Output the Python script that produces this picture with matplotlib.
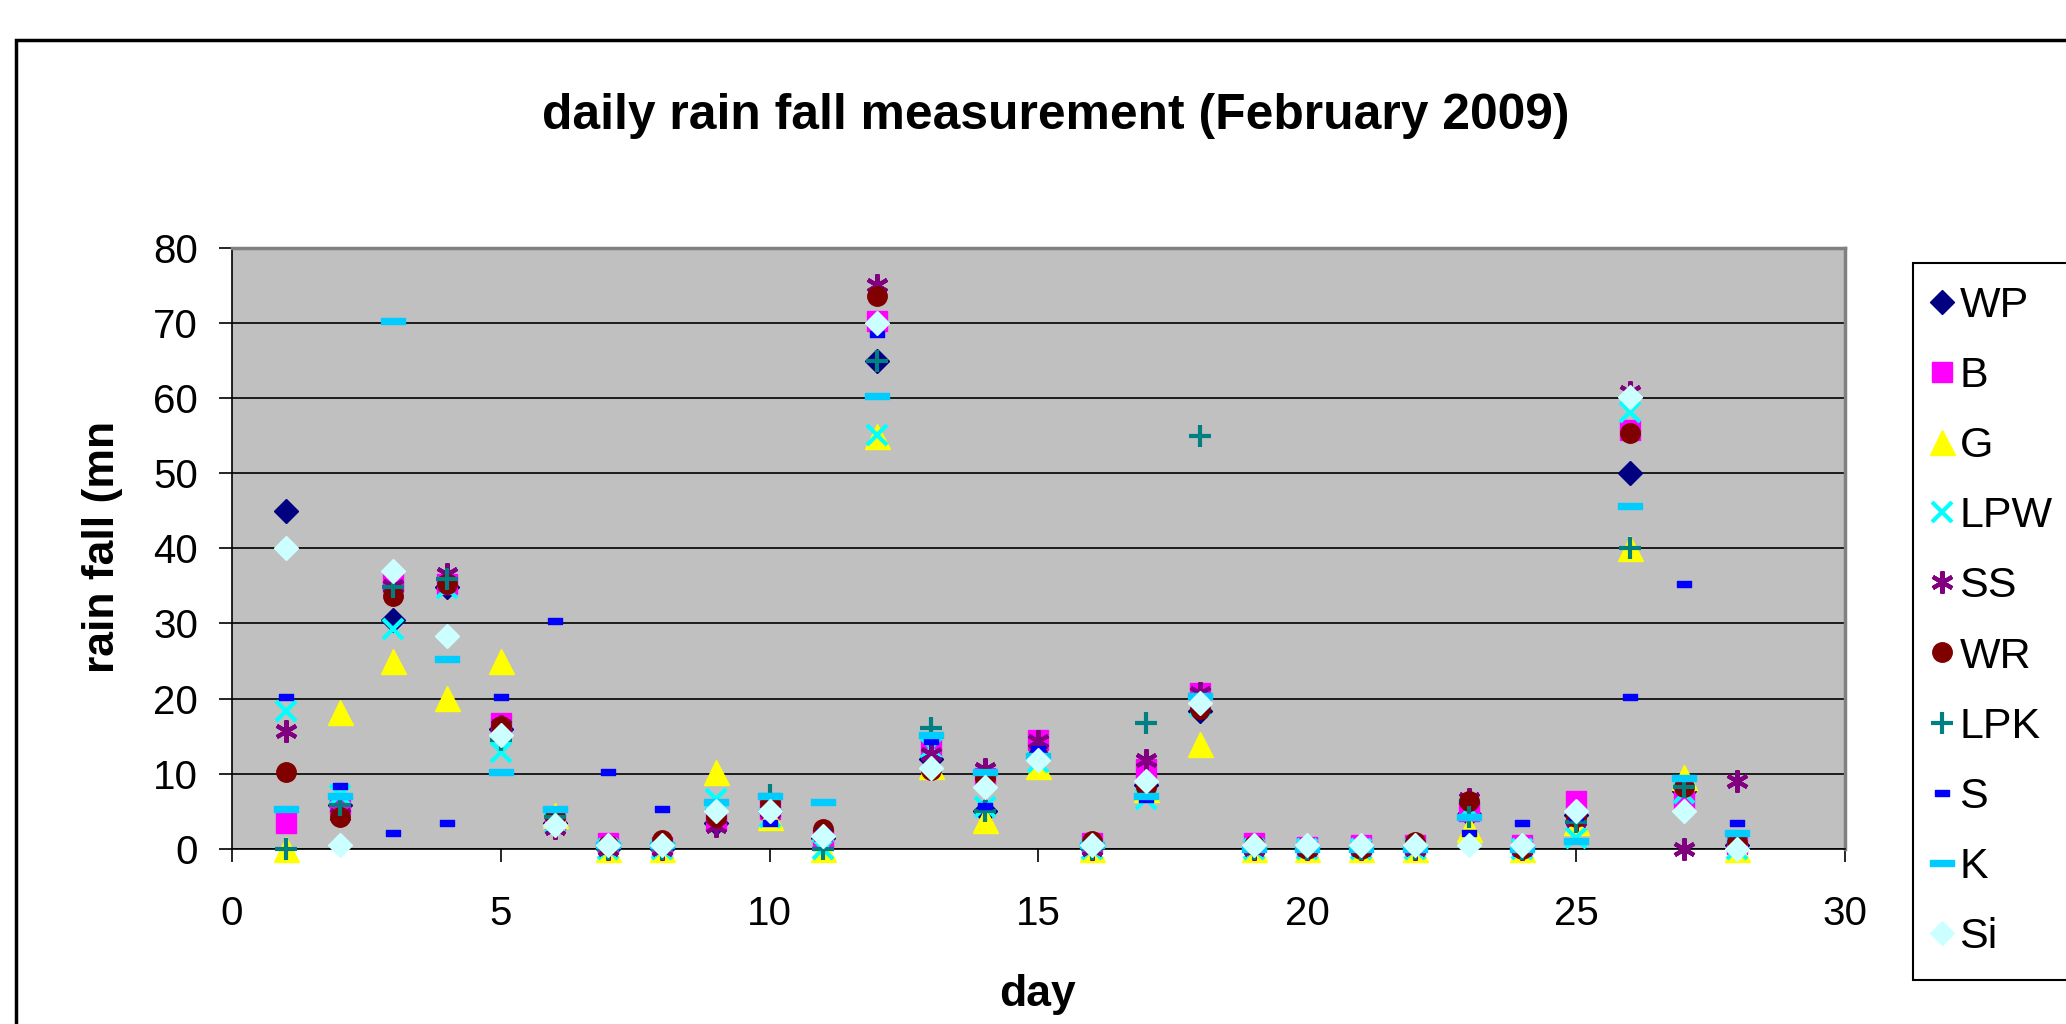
import numpy as np
import matplotlib
matplotlib.use("Agg")
import matplotlib.pyplot as plt
from matplotlib.path import Path
from matplotlib.patches import Rectangle

plt.rcParams['font.family'] = ['Liberation Sans', 'DejaVu Sans']

days = list(range(1, 29))

WP = [45, 5.8, 30.4, 34.8, 15.9, 3.5, 0, 0, 3.4, 5, 1.5, 65, 12, 5, 12.4, 0.3, 8.5, 18.3, 0, 0, 0, 0, 4.7, 0, 4.5, 50, 7.7, 0.5]
B = [3.5, 6, 35.5, 35.3, 16.7, 3.9, 0.8, 0.3, 3.9, 5.3, 1.2, 70.3, 13.7, 9.4, 14.5, 0.8, 10.7, 20.8, 0.8, 0.3, 0.5, 0.5, 5, 0.5, 6.4, 55.7, 6.6, 0.7]
G = [0, 18.2, 25, 20.1, 25, 4.5, 0, 0, 10.2, 4.2, 0, 55, 11, 3.9, 11, 0, 8, 13.9, 0, 0, 0, 0, 2.6, 0, 3.6, 40, 9.6, 0]
LPW = [18.3, 7.2, 29.2, 34.7, 12.9, 3.5, 0, 0, 6.6, 4.2, 0, 55.1, 13.4, 5.6, 11.5, 0, 6.6, 19, 0, 0, 0, 0, 5.3, 0, 1.5, 58.1, 7.5, 0]
SS = [15.7, 4.5, 35, 36.6, 16.4, 2.8, 0, 0, 3.1, 5, 2, 75, 12.6, 10.6, 14.3, 0, 11.8, 20.8, 0, 0, 0, 0, 6.6, 0, 3.9, 60.8, 0, 9.1]
WR = [10.3, 4.2, 33.6, 35.3, 16.4, 4.2, 0.5, 1.2, 4.2, 6.1, 2.6, 73.6, 10.5, 9.4, 12.4, 1, 8.3, 18.6, 0.5, 0, 0, 0.9, 6.4, 0, 4.2, 55.4, 8.3, 0.9]
LPK = [0, 5.8, 34.8, 35.9, 14.5, 4.2, 0, 0, 5, 7.2, 0, 65, 16.1, 5, 12, 0, 16.8, 55, 0, 0, 0, 0, 4.2, 0, 3.6, 40, 8.3, 0]
S = [20.2, 8.4, 2.1, 3.5, 20.2, 30.3, 10.2, 5.3, 5, 3.4, 2.3, 68.5, 14.4, 5.7, 13.3, 0.9, 6.6, 19, 0.5, 0.5, 0.5, 0.5, 2.1, 3.5, 4.2, 20.2, 35.3, 3.4]
K = [5.3, 7.1, 70.3, 25.3, 10.2, 5.3, 0.5, 0.5, 6.2, 7.1, 6.2, 60.3, 15.2, 10.2, 12.4, 0.5, 7.1, 20.4, 0, 0, 0, 0, 4.2, 0, 1.1, 45.7, 9.4, 2.1]
Si = [40, 0.5, 37, 28.3, 15.1, 3.2, 0.5, 0.5, 5, 5, 1.7, 70, 10.8, 8.3, 11.8, 0.5, 9.1, 19.4, 0.5, 0.5, 0.5, 0.5, 0.5, 0.5, 5, 60.2, 5, 0]

# short and long dash markers
short_dash = Path([(-1, -0.45), (1, -0.45), (1, 0.45), (-1, 0.45), (-1, -0.45)], closed=True)
long_dash = Path([(-1, -0.26), (1, -0.26), (1, 0.26), (-1, 0.26), (-1, -0.26)], closed=True)

series = [
    ("WP", WP, dict(marker='D', color='#000080', ms=12)),
    ("B", B, dict(marker='s', color='#FF00FF', ms=14)),
    ("G", G, dict(marker='^', color='#FFFF00', ms=18)),
    ("LPW", LPW, dict(marker='x', color='#00FFFF', ms=15, mew=3)),
    ("SS", SS, dict(marker=(6, 2, 0), color='#800080', ms=16, mew=3)),
    ("WR", WR, dict(marker='o', color='#800000', ms=14)),
    ("LPK", LPK, dict(marker='+', color='#008080', ms=16, mew=3)),
    ("S", S, dict(marker=short_dash, color='#0000FF', ms=10)),
    ("K", K, dict(marker=long_dash, color='#00CCFF', ms=17)),
    ("Si", Si, dict(marker='D', color='#CCFFFF', ms=12)),
]

fig = plt.figure(figsize=(20.66, 10.24), dpi=100)
ax = fig.add_axes([0.1123, 0.171, 0.7807, 0.587])
ax.set_facecolor('#C0C0C0')

for name, vals, st in series:
    ax.plot(days, vals, linestyle='none', marker=st['marker'], markersize=st['ms'],
            markerfacecolor=st['color'], markeredgecolor=st['color'],
            markeredgewidth=st.get('mew', 1), label=name, clip_on=False, zorder=3)

ax.set_xlim(0, 30)
ax.set_ylim(0, 80)
ax.set_xticks(range(0, 31, 5))
ax.set_yticks(range(0, 81, 10))
ax.yaxis.grid(True, color='black', linewidth=1.2)
ax.set_axisbelow(True)
ax.tick_params(axis='both', direction='out', length=9.4, width=1.2, labelsize=29)
ax.tick_params(axis='x', pad=23.5)
ax.tick_params(axis='y', pad=15)
for s in ['top', 'right']:
    ax.spines[s].set_color('#808080')
    ax.spines[s].set_linewidth(2.5)
for s in ['left', 'bottom']:
    ax.spines[s].set_color('black')
    ax.spines[s].set_linewidth(1.2)

fig.text(0.5022, 0.029, 'day', ha='center', va='center', fontsize=32, fontweight='bold')
fig.text(0.0494, 0.466, 'rain fall (mn', ha='center', va='center', rotation=90,
         fontsize=32, fontweight='bold')
fig.text(0.511, 0.887, 'daily rain fall measurement (February 2009)', ha='center', va='center',
         fontsize=35.8, fontweight='bold')

leg = fig.legend(loc='upper left', bbox_to_anchor=(1913 / 2066, 1 - 263 / 1024), fontsize=31,
                 frameon=True, fancybox=False, edgecolor='black', framealpha=1,
                 handlelength=0.3, handletextpad=0.25, labelspacing=0.7, borderpad=0.53,
                 borderaxespad=0)
leg.get_frame().set_linewidth(1.5)

# outer chart border
fig.patches.append(Rectangle((16 / 2066, -0.1), 1.2, 1 - 40 / 1024 + 0.1, transform=fig.transFigure,
                             fill=False, edgecolor='black', linewidth=2.5))

fig.savefig('out.png', dpi=100)
